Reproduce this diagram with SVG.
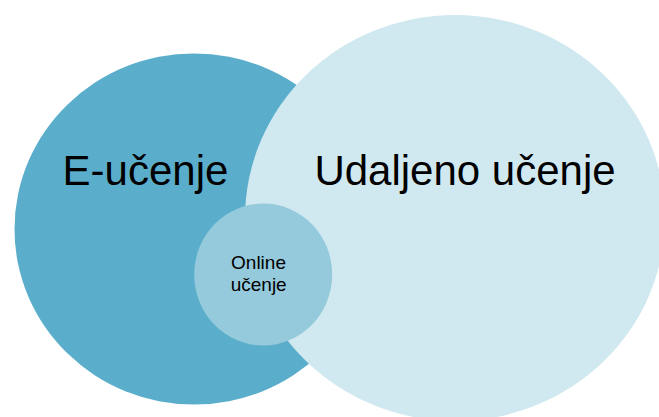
<svg xmlns="http://www.w3.org/2000/svg" width="659" height="417" viewBox="0 0 659 417">
  <style>
    .lbl { font-family: "Liberation Sans", Arial, sans-serif; fill: #000000; text-anchor: middle; }
    .big { font-size: 42px; }
    .small { font-size: 19px; }
  </style>
  <rect x="0" y="0" width="659" height="417" fill="#ffffff"/>
  <g id="e-ucenje">
    <ellipse cx="194" cy="229" rx="179.5" ry="175.5" fill="#5BAECB"/>
  </g>
  <g id="udaljeno-ucenje">
    <ellipse cx="455" cy="218" rx="210" ry="203" fill="#D0E8F0"/>
  </g>
  <g id="online-ucenje">
    <ellipse cx="263.2" cy="274.5" rx="69" ry="71" fill="#94CADB"/>
  </g>
  <g id="labels">
    <text class="lbl big" x="145.5" y="185">E-učenje</text>
    <text class="lbl big" x="465" y="185">Udaljeno učenje</text>
    <text class="lbl small" x="258.5" y="268.5">Online</text>
    <text class="lbl small" x="258.7" y="291">učenje</text>
  </g>
  <g id="connectors"></g>
</svg>
